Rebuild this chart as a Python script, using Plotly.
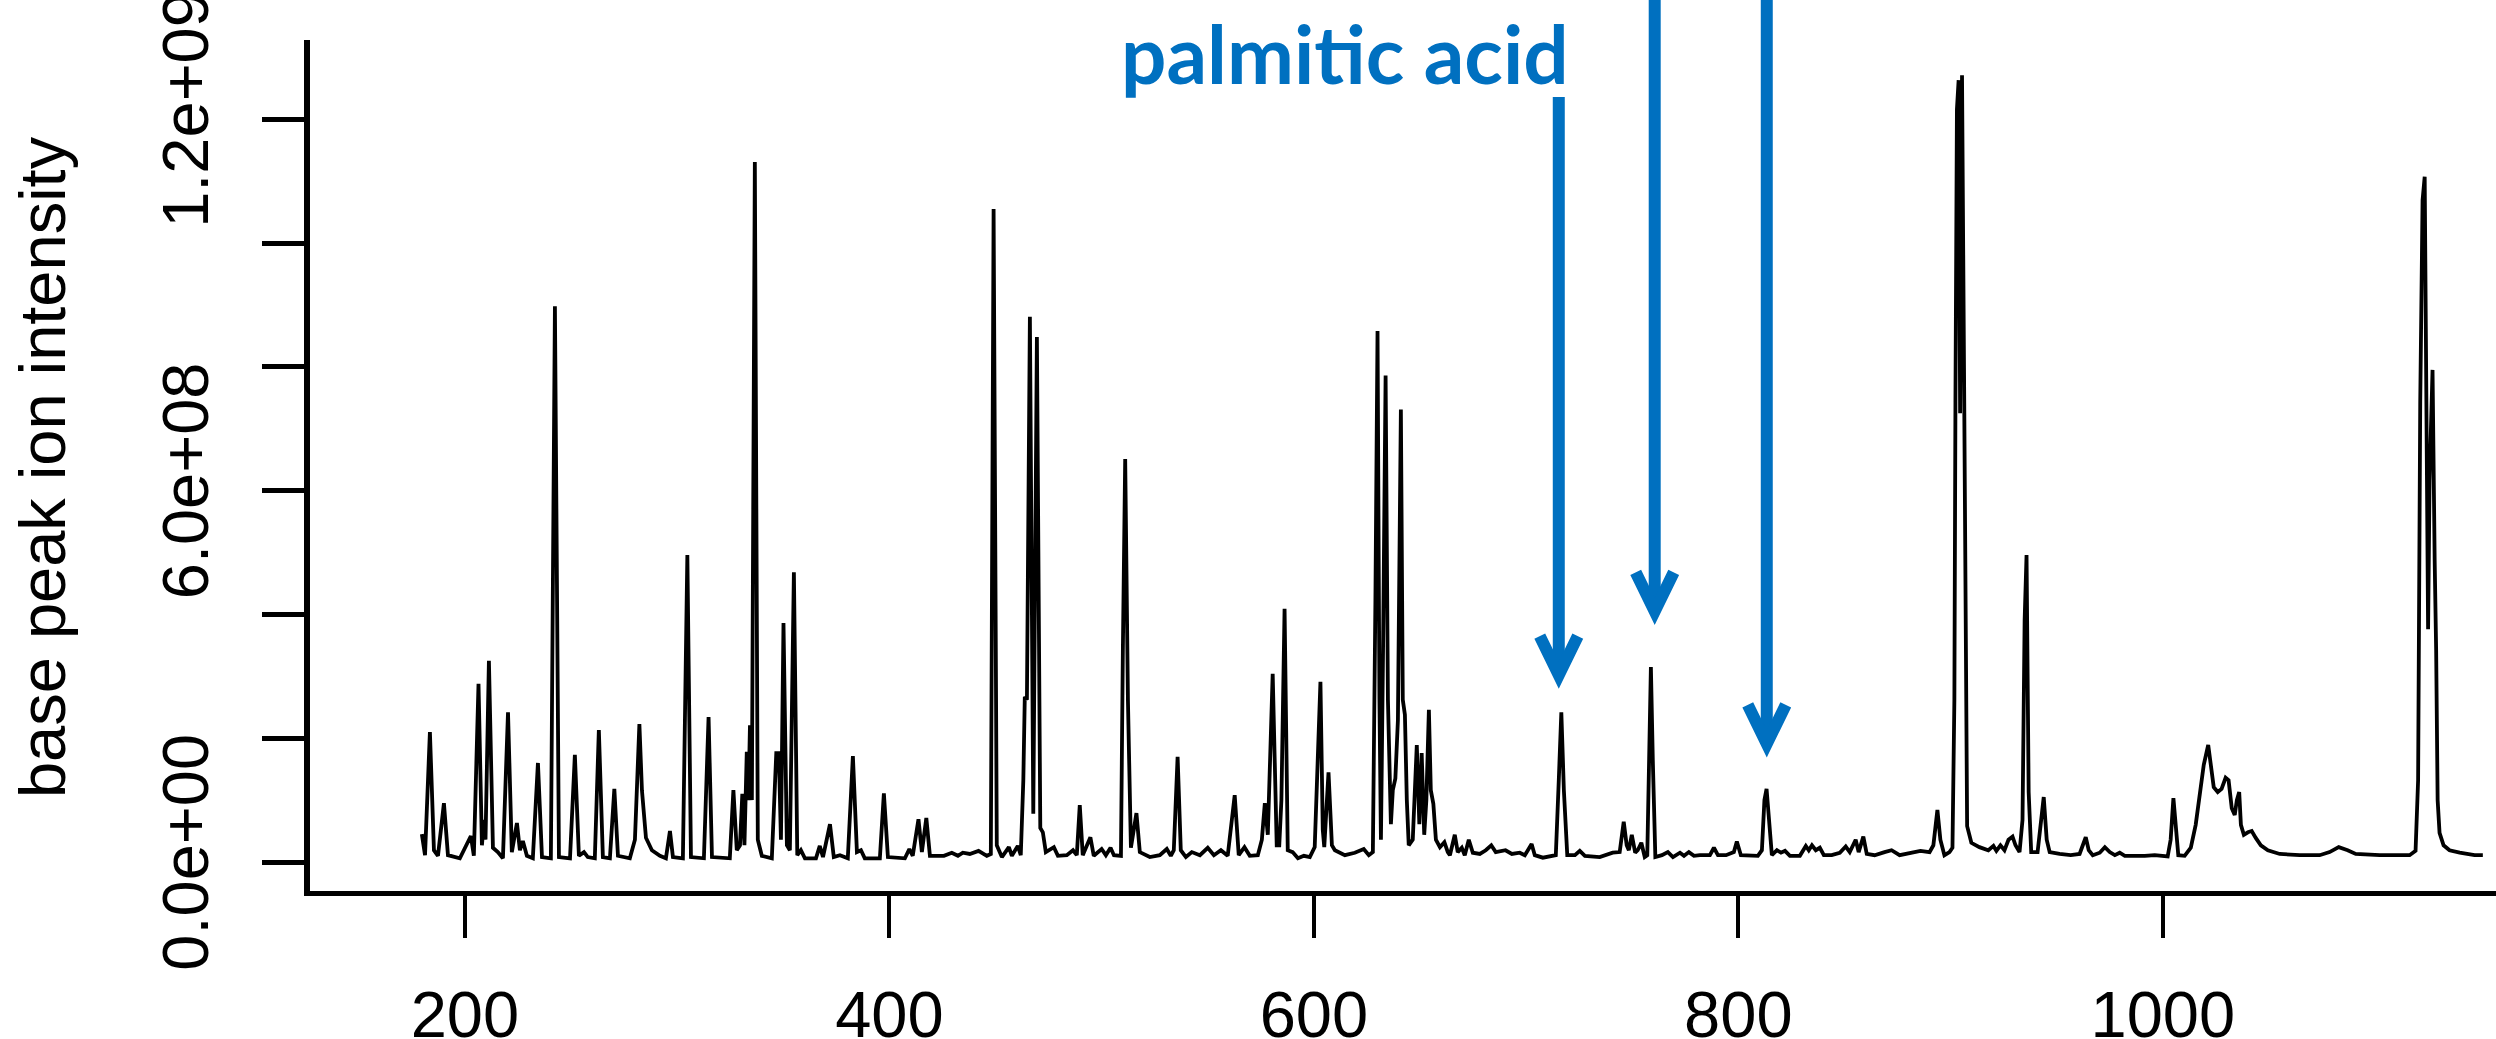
import plotly.graph_objects as go

# ---------------- data ----------------
rt = [179.7, 181.2, 183.5, 185.4, 187.3, 190.1, 192.0, 197.6, 202.8, 204.2,
      206.4, 208.0, 209.0, 209.7, 211.3, 213.2, 215.5, 217.9, 220.3, 222.1,
      224.5, 225.9, 227.3, 229.2, 232.0, 234.4, 236.3, 240.5, 242.4, 244.3,
      249.5, 251.8, 253.7, 256.1, 257.9, 261.2, 263.1, 265.0, 268.3, 270.4,
      272.1, 277.7, 280.1, 282.2, 283.4, 285.3, 288.1, 291.9, 294.7, 296.6,
      298.0, 302.7, 304.8, 306.5, 312.6, 314.8, 316.4, 322.5, 324.8, 326.5,
      328.1, 329.6, 330.7, 331.7, 332.8, 333.6, 334.3, 335.2, 336.6, 338.0,
      339.9, 344.6, 346.0, 346.7, 347.9, 348.9, 350.1, 351.7, 353.1, 355.0,
      356.6, 358.3, 360.2, 365.4, 367.2, 368.7, 372.0, 373.8, 376.7, 380.4,
      382.8, 384.7, 386.6, 388.4, 395.5, 397.4, 399.3, 407.3, 409.4, 411.0,
      413.7, 415.3, 417.4, 419.1, 425.7, 429.4, 432.3, 434.6, 437.9, 442.0,
      445.9, 447.8, 449.1, 450.6, 453.0, 456.3, 457.7, 460.5, 461.9, 463.1,
      463.8, 464.8, 466.2, 467.8, 469.5, 471.1, 472.3, 473.7, 477.5, 479.4,
      483.6, 486.5, 488.3, 489.7, 491.1, 494.7, 496.3, 500.0, 502.0, 504.2,
      505.8, 509.1, 510.0, 511.1, 512.4, 513.8, 516.4, 518.0, 522.7, 527.4,
      530.7, 532.6, 534.0, 535.8, 537.3, 539.7, 542.5, 546.3, 550.0, 552.9,
      556.2, 559.4, 562.7, 564.6, 567.3, 569.8, 573.6, 575.5, 576.9, 578.3,
      580.6, 582.5, 583.7, 584.7, 586.2, 587.7, 590.0, 592.5, 595.3, 598.1,
      600.4, 601.6, 603.1, 604.2, 604.9, 606.9, 608.5, 609.9, 614.6, 619.3,
      623.5, 625.9, 627.8, 629.0, 630.0, 630.9, 631.6, 632.6, 633.8, 634.9,
      636.3, 637.2, 638.4, 639.6, 641.0, 641.9, 642.9, 643.8, 644.7, 646.6,
      648.5, 649.7, 650.8, 652.0, 653.0, 654.2, 655.1, 656.3, 657.5, 659.4,
      661.5, 663.1, 664.1, 666.4, 667.8, 669.7, 671.1, 673.0, 674.9, 678.2,
      681.0, 683.6, 685.7, 690.3, 693.3, 697.0, 699.4, 702.6, 704.1, 707.9,
      712.1, 714.0, 715.4, 716.6, 717.8, 719.4, 723.0, 725.3, 727.7, 734.7,
      740.8, 744.1, 746.0, 747.4, 748.4, 749.8, 751.4, 752.6, 754.3, 755.9,
      757.1, 757.8, 758.8, 759.7, 760.9, 764.0, 766.8, 769.2, 772.5, 774.4,
      776.7, 779.1, 781.9, 786.6, 788.5, 790.4, 794.2, 797.9, 799.3, 801.2,
      809.2, 811.1, 812.3, 813.3, 814.4, 815.8, 818.2, 820.1, 822.0, 824.3,
      829.0, 831.8, 833.2, 834.7, 836.5, 838.4, 840.3, 844.0, 847.8, 850.6,
      852.5, 855.3, 856.7, 858.9, 860.5, 864.2, 868.9, 872.2, 876.0, 883.1,
      885.8, 890.1, 891.9, 893.8, 895.2, 897.1, 899.5, 900.9, 901.8, 902.3,
      903.0, 903.8, 904.5, 905.4, 906.5, 907.8, 909.8, 913.6, 917.8, 920.2,
      921.6, 923.5, 925.4, 927.3, 929.2, 930.6, 932.5, 933.9, 934.9, 935.8,
      936.8, 938.0, 941.0, 942.5, 943.9, 945.3, 946.7, 951.4, 956.6, 960.8,
      962.3, 963.7, 965.1, 967.0, 970.3, 972.7, 975.0, 977.4, 979.7, 982.1,
      991.5, 996.2, 1002.3, 1003.7, 1005.0, 1006.1, 1007.3, 1010.3, 1013.2, 1015.5,
      1017.4, 1019.3, 1021.4, 1022.6, 1024.0, 1025.9, 1027.7, 1029.6, 1031.0, 1032.5,
      1033.9, 1034.9, 1036.0, 1036.8, 1038.2, 1040.1, 1041.9, 1043.8, 1046.2, 1049.5,
      1055.1, 1064.5, 1073.9, 1078.6, 1082.9, 1087.1, 1090.9, 1102.2, 1116.3, 1119.1,
      1120.3, 1121.3, 1122.4, 1123.4, 1124.3, 1125.0, 1125.7, 1127.1, 1128.1, 1128.8,
      1129.5, 1130.4, 1132.3, 1135.1, 1139.9, 1146.9, 1150.8]

# base peak ion intensity, in units of 1e8
intensity_e8 = [0.45, 0.11, 2.10, 0.19, 0.10, 0.95, 0.11, 0.06, 0.42, 0.10,
                2.88, 0.27, 0.68, 0.36, 3.25, 0.23, 0.16, 0.06, 2.42, 0.16,
                0.63, 0.19, 0.34, 0.10, 0.06, 1.60, 0.08, 0.06, 8.98, 0.08,
                0.06, 1.73, 0.10, 0.16, 0.08, 0.06, 2.13, 0.08, 0.06, 1.18,
                0.10, 0.06, 0.36, 2.23, 1.16, 0.39, 0.19, 0.10, 0.06, 0.50,
                0.08, 0.06, 4.96, 0.08, 0.06, 2.34, 0.08, 0.06, 0.06, 1.16,
                0.19, 0.27, 1.10, 0.27, 1.78, 1.00, 2.21, 1.00, 11.31, 0.36,
                0.10, 0.06, 1.00, 1.76, 1.76, 0.36, 3.86, 0.27, 0.19, 4.68,
                0.11, 0.19, 0.06, 0.06, 0.26, 0.08, 0.61, 0.08, 0.11, 0.06,
                1.71, 0.16, 0.19, 0.06, 0.06, 1.11, 0.08, 0.06, 0.21, 0.10,
                0.69, 0.16, 0.71, 0.10, 0.10, 0.15, 0.10, 0.15, 0.13, 0.18,
                0.10, 0.13, 10.55, 0.27, 0.08, 0.24, 0.10, 0.26, 0.11, 1.32,
                2.67, 2.62, 8.81, 0.78, 8.48, 0.55, 0.48, 0.16, 0.24, 0.10,
                0.11, 0.19, 0.11, 0.92, 0.11, 0.40, 0.10, 0.21, 0.11, 0.23,
                0.11, 0.10, 3.40, 6.51, 2.60, 0.23, 0.79, 0.16, 0.08, 0.11,
                0.21, 0.10, 0.19, 1.70, 0.19, 0.08, 0.16, 0.11, 0.23, 0.11,
                0.19, 0.10, 1.08, 0.11, 0.24, 0.10, 0.11, 0.36, 0.95, 0.44,
                3.04, 0.27, 0.27, 1.00, 4.09, 0.19, 0.16, 0.06, 0.10, 0.08,
                0.24, 1.65, 2.91, 0.52, 0.24, 1.45, 0.27, 0.19, 0.11, 0.15,
                0.21, 0.11, 0.16, 4.23, 8.58, 2.62, 0.36, 3.42, 7.86, 2.62,
                0.61, 1.16, 1.35, 2.29, 7.31, 2.62, 2.38, 1.00, 0.27, 0.36,
                1.89, 0.61, 1.76, 0.44, 1.00, 2.46, 1.16, 0.94, 0.36, 0.24,
                0.32, 0.16, 0.11, 0.44, 0.16, 0.23, 0.11, 0.36, 0.15, 0.13,
                0.19, 0.27, 0.16, 0.19, 0.13, 0.15, 0.11, 0.29, 0.11, 0.07,
                0.10, 0.11, 1.32, 2.42, 1.16, 0.11, 0.11, 0.18, 0.10, 0.08,
                0.15, 0.16, 0.65, 0.27, 0.19, 0.44, 0.15, 0.19, 0.31, 0.08,
                0.11, 1.65, 3.15, 1.65, 0.08, 0.11, 0.16, 0.08, 0.15, 0.10,
                0.16, 0.10, 0.11, 0.11, 0.23, 0.11, 0.11, 0.16, 0.33, 0.11,
                0.10, 0.19, 1.00, 1.18, 0.68, 0.11, 0.19, 0.15, 0.18, 0.10,
                0.10, 0.26, 0.19, 0.27, 0.19, 0.23, 0.11, 0.11, 0.15, 0.25,
                0.16, 0.36, 0.16, 0.41, 0.13, 0.11, 0.16, 0.19, 0.11, 0.16,
                0.18, 0.16, 0.27, 0.84, 0.36, 0.11, 0.16, 0.23, 2.62, 7.43,
                12.16, 12.63, 7.25, 12.71, 6.51, 0.58, 0.31, 0.24, 0.19, 0.26,
                0.18, 0.27, 0.19, 0.36, 0.41, 0.27, 0.16, 0.68, 3.90, 4.96,
                1.13, 0.16, 0.16, 0.68, 1.05, 0.36, 0.16, 0.13, 0.11, 0.13,
                0.27, 0.40, 0.19, 0.11, 0.15, 0.24, 0.16, 0.11, 0.15, 0.10,
                0.10, 0.11, 0.09, 0.36, 1.03, 0.52, 0.11, 0.10, 0.23, 0.60,
                1.08, 1.57, 1.89, 1.57, 1.21, 1.13, 1.18, 1.36, 1.32, 0.87,
                0.76, 1.00, 1.13, 0.60, 0.44, 0.48, 0.50, 0.39, 0.27, 0.19,
                0.13, 0.11, 0.11, 0.16, 0.24, 0.19, 0.13, 0.11, 0.11, 0.18,
                1.32, 7.43, 10.69, 11.07, 6.66, 3.76, 6.17, 7.95, 4.88, 3.42,
                1.00, 0.47, 0.27, 0.19, 0.15, 0.11, 0.11]

x_tick_vals = [200, 400, 600, 800, 1000]
y_tick_vals = [0, 2e8, 4e8, 6e8, 8e8, 1e9, 1.2e9]
y_tick_text = ["0.0e+00", "", "", "6.0e+08", "", "", "1.2e+09"]

x_range = [127.0, 1157.0]
y_range = [-4.685e7, 1.328e9]

# arrows: retention time, tip intensity, top of shaft intensity
arrow_rt = [715.4, 760.6, 813.4]
arrow_tip = [2.81e8, 3.84e8, 1.70e8]
arrow_top = [1.236e9, 1.40e9, 1.40e9]
label_text = "palmitic acid"
label_rt = 721.0

# ---------------- layout geometry ----------------
W, H = 2496, 1039
ML, MR, MT, MB = 310, 0, 40, 148
plot_w = W - ML - MR
plot_h = H - MT - MB
x_per_px = (x_range[1] - x_range[0]) / plot_w
y_per_px = (y_range[1] - y_range[0]) / plot_h


def ypaper(v):
    return (v - y_range[0]) / (y_range[1] - y_range[0])


intensity = [v * 1e8 for v in intensity_e8]

fig = go.Figure()
fig.add_trace(go.Scatter(x=rt, y=intensity, mode="lines",
                         line=dict(color="black", width=3.8),
                         hoverinfo="skip", showlegend=False))

BLUE = "#0070C0"
shapes = []
for xr, tip, top in zip(arrow_rt, arrow_tip, arrow_top):
    vertex = tip + 13 * y_per_px
    wing_y = tip + 52 * y_per_px
    wing_dx = 19 * x_per_px
    shapes.append(dict(type="line", xref="x", yref="paper",
                       x0=xr, x1=xr, y0=ypaper(top), y1=ypaper(vertex + 4 * y_per_px),
                       line=dict(color=BLUE, width=12)))
    shapes.append(dict(type="path", xref="x", yref="paper",
                       path=(f"M {xr - wing_dx},{ypaper(wing_y)} "
                             f"L {xr},{ypaper(vertex)} "
                             f"L {xr + wing_dx},{ypaper(wing_y)}"),
                       line=dict(color=BLUE, width=12)))

font_main = "Liberation Sans, Arial, sans-serif"

annotations = [
    dict(text=label_text, xref="x", yref="paper", x=label_rt, y=ypaper(1.307e9),
         xanchor="right", yanchor="middle", showarrow=False,
         font=dict(family="Lato, Open Sans, sans-serif", size=80, color=BLUE,
                   weight="bold")),
    dict(text="base peak ion intensity", xref="paper", yref="paper",
         x=0, xshift=42 - ML, y=ypaper(6.38e8), xanchor="center",
         yanchor="middle", textangle=-90, showarrow=False,
         font=dict(family=font_main, size=65, color="black")),
]

fig.update_layout(
    template="none",
    width=W, height=H,
    margin=dict(l=ML, r=MR, t=MT, b=MB, pad=0, autoexpand=False),
    paper_bgcolor="white", plot_bgcolor="white",
    shapes=shapes, annotations=annotations,
    showlegend=False,
    xaxis=dict(range=x_range, tickvals=x_tick_vals, ticks="outside", ticklen=42,
               tickwidth=4, tickcolor="black", showline=True, linewidth=5,
               linecolor="black", showgrid=False, zeroline=False,
               automargin=False, ticklabeloverflow="allow",
               tickfont=dict(family=font_main, size=65, color="black"),
               ticklabelstandoff=21),
    yaxis=dict(range=y_range, tickvals=y_tick_vals, ticktext=y_tick_text,
               ticks="outside", ticklen=42, tickwidth=4.5, tickcolor="black",
               showline=True, linewidth=5.5, linecolor="black", showgrid=False,
               zeroline=False, tickangle=-90, automargin=False,
               ticklabeloverflow="allow",
               tickfont=dict(family=font_main, size=65, color="black"),
               ticklabelstandoff=28),
)

fig.write_html(
    "out.html",
    config={"displayModeBar": False},
    post_script="document.body.style.margin='0';document.body.style.overflow='hidden';",
)
